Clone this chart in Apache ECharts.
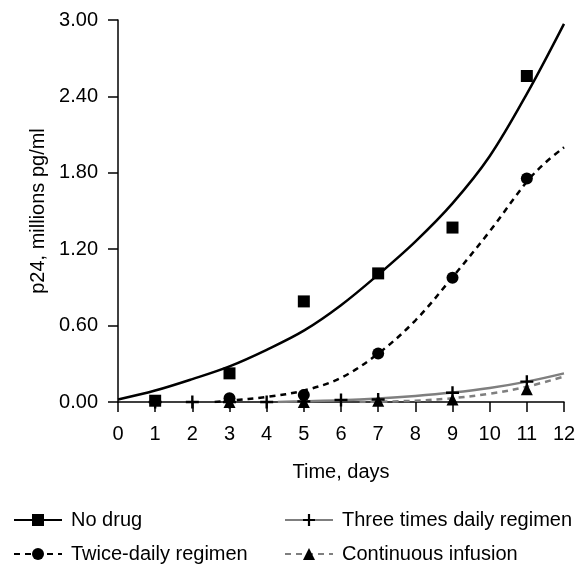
<!DOCTYPE html>
<html>
<head>
<meta charset="utf-8">
<script src="https://cdn.jsdelivr.net/npm/echarts@6/dist/echarts.min.js"></script>
<style>
html,body{margin:0;padding:0;background:#fff;}
#chart{width:588px;height:568px;}
</style>
</head>
<body>
<div id="chart"></div>
<script>
// ---- data ----
const seriesNames = ['No drug', 'Twice-daily regimen', 'Three times daily regimen', 'Continuous infusion'];
const yTicks = [0, 0.6, 1.2, 1.8, 2.4, 3.0];
const xTicks = [0,1,2,3,4,5,6,7,8,9,10,11,12];

// observed points
const noDrugDays = [1, 3, 5, 7, 9, 11];
const noDrugVals = [0.01, 0.225, 0.79, 1.01, 1.37, 2.56];
const twiceDays = [3, 5, 7, 9, 11];
const twiceVals = [0.03, 0.055, 0.38, 0.975, 1.755];
const threeDays = [1, 2, 3, 4, 5, 6, 7, 9, 11];
const threeVals = [0, 0, 0, 0, 0.005, 0.016, 0.02, 0.073, 0.16];
const contDays = [3, 5, 7, 9, 11];
const contVals = [0, 0, 0.01, 0.02, 0.1];

// fitted curves
const noDrugFitDays = [0, 1, 2, 3, 4, 5, 6, 7, 8, 9, 10, 11, 12];
const noDrugFitVals = [0.02, 0.09, 0.18, 0.28, 0.41, 0.56, 0.76, 1.0, 1.26, 1.56, 1.93, 2.42, 2.97];
const twiceFitDays = [2.6, 3, 4, 5, 6, 7, 8, 9, 10, 11, 11.5, 12];
const twiceFitVals = [0, 0.01, 0.04, 0.09, 0.19, 0.38, 0.64, 0.98, 1.34, 1.73, 1.88, 2.0];
const threeFitDays = [4.3, 5, 6, 7, 8, 9, 10, 11, 12];
const threeFitVals = [0, 0.005, 0.013, 0.027, 0.047, 0.074, 0.11, 0.16, 0.225];
const contFitDays = [6.5, 8, 9, 10, 11, 12];
const contFitVals = [0, 0.01, 0.03, 0.065, 0.12, 0.2];

const pair = (xs, ys) => xs.map((x, i) => [x, ys[i]]);

const FONT = 'Liberation Sans, Arial, Helvetica, sans-serif';
const FS = 20;
const GREY = '#7f7f7f';
const plusPath = 'path://M4.9,0H7.1V4.9H12V7.1H7.1V12H4.9V7.1H0V4.9H4.9Z';

const chart = echarts.init(document.getElementById('chart'), null, {renderer: 'canvas'});

function fitSeries(name, xs, ys, color, dash, symbol, markerColor) {
  return {
    name: name, type: 'line', data: pair(xs, ys), smooth: 0.35,
    showSymbol: false, symbol: symbol, symbolSize: 12,
    lineStyle: {color: color, width: 2.5, type: dash},
    itemStyle: {color: markerColor},
    emphasis: {disabled: true},
    silent: true, z: 2
  };
}
function pointSeries(name, xs, ys, symbol, size) {
  return {
    name: name, type: 'scatter', data: pair(xs, ys), symbol: symbol, symbolSize: size,
    itemStyle: {color: '#000', opacity: 1}, clip: false, silent: true, z: 3
  };
}

const legendCommon = {
  orient: 'vertical', itemWidth: 48, itemHeight: 15, itemGap: 14,
  padding: 0, top: 510, height: 58,
  textStyle: {fontFamily: FONT, fontSize: FS, color: '#000', padding: [0, 0, 0, 4]},
  selectedMode: false
};

chart.setOption({
  animation: false,
  backgroundColor: '#fff',
  grid: {left: 118, right: 24, top: 20, bottom: 166, containLabel: false},
  legend: [
    Object.assign({}, legendCommon, {data: [seriesNames[0], seriesNames[1]], left: 13}),
    Object.assign({}, legendCommon, {data: [seriesNames[2], seriesNames[3]], left: 284})
  ],
  xAxis: {
    type: 'value', min: xTicks[0], max: xTicks[xTicks.length - 1], interval: 1,
    name: 'Time, days', nameLocation: 'middle', nameGap: 60,
    nameTextStyle: {fontFamily: FONT, fontSize: FS, color: '#000'},
    axisLine: {show: true, onZero: false, lineStyle: {color: '#000', width: 1.5}},
    axisTick: {show: true, length: 10, lineStyle: {color: '#000', width: 1.5}},
    axisLabel: {fontFamily: FONT, fontSize: FS, color: '#000', margin: 22},
    splitLine: {show: false}
  },
  yAxis: {
    type: 'value', min: yTicks[0], max: yTicks[yTicks.length - 1], interval: 0.6,
    name: 'p24, millions pg/ml', nameLocation: 'middle', nameGap: 66,
    nameTextStyle: {fontFamily: FONT, fontSize: FS, color: '#000'},
    axisLine: {show: true, onZero: false, lineStyle: {color: '#000', width: 1.5}},
    axisTick: {show: true, length: 10, lineStyle: {color: '#000', width: 1.5}},
    axisLabel: {fontFamily: FONT, fontSize: FS, color: '#000', margin: 20,
      formatter: v => v.toFixed(2)},
    splitLine: {show: false}
  },
  series: [
    fitSeries(seriesNames[0], noDrugFitDays, noDrugFitVals, '#000', 'solid', 'rect', '#000'),
    fitSeries(seriesNames[1], twiceFitDays, twiceFitVals, '#000', [6, 5], 'circle', '#000'),
    fitSeries(seriesNames[2], threeFitDays, threeFitVals, GREY, 'solid', plusPath, '#000'),
    fitSeries(seriesNames[3], contFitDays, contFitVals, GREY, [6, 5], 'triangle', '#000'),
    pointSeries(seriesNames[0], noDrugDays, noDrugVals, 'rect', 12),
    pointSeries(seriesNames[2], threeDays, threeVals, plusPath, 13),
    pointSeries(seriesNames[3], contDays, contVals, 'triangle', 12),
    pointSeries(seriesNames[1], twiceDays, twiceVals, 'circle', 12)
  ]
});
</script>
</body>
</html>
